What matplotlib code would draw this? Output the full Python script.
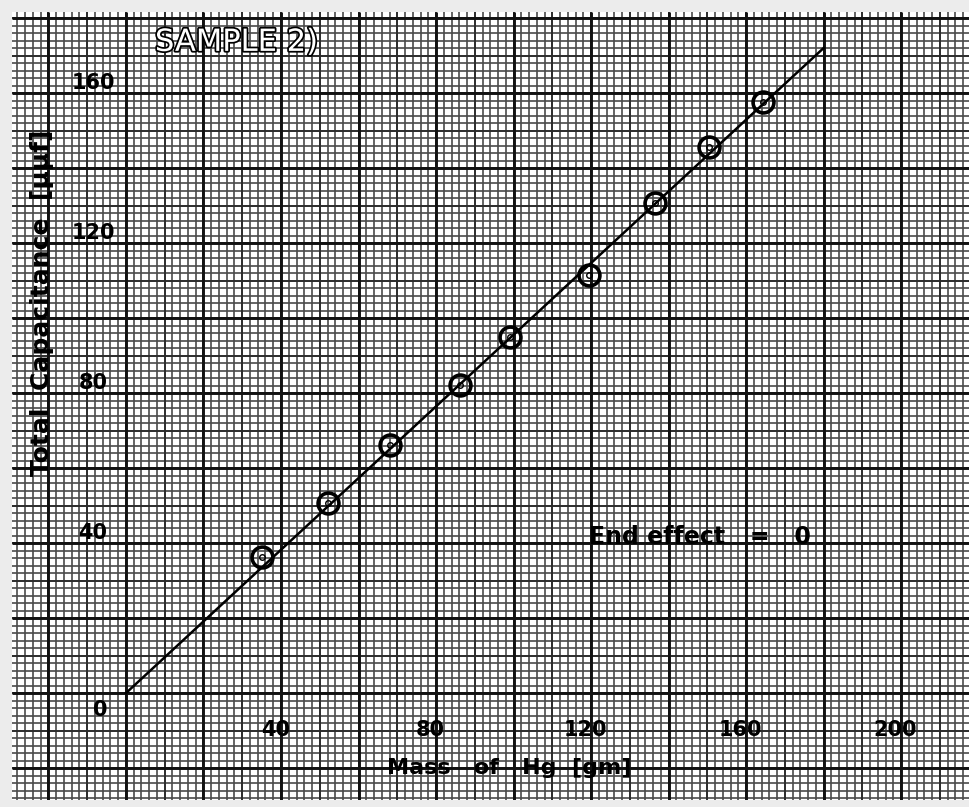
import numpy as np
import matplotlib.pyplot as plt
import matplotlib.patheffects as pe

# readings taken off the graph (mass of Hg in gm, total capacitance in uuf)
mass = [35.1, 52.1, 68.1, 86.2, 99.1, 119.5, 136.5, 150.5, 164.4]
capacitance = [36.3, 50.7, 66.1, 82.1, 94.9, 111.5, 130.7, 145.6, 157.6]

# fitted straight line through origin
fit_x = [0, 180]
fit_y = [0, 172]

x_ticks = [40, 80, 120, 160, 200]
y_ticks = [40, 80, 120, 160]

fig = plt.figure(figsize=(9.69, 8.07), dpi=100)
fig.patch.set_facecolor('#ececec')
ax = fig.add_axes([12 / 969, 7 / 807, 1 - 12 / 969, (800 - 12) / 807])
ax.set_facecolor('white')
ax.set_xlim(-29.4, 217.5)
ax.set_ylim(-28.5, 181.6)

# graph paper: 1 mm, 5 mm and 1 cm rulings
x0, x1 = ax.get_xlim()
y0, y1 = ax.get_ylim()
xs = np.arange(-28, 218, 2)
ys = np.arange(-28, 182, 2)
ax.vlines(xs, y0, y1, color='#4a4a4a', lw=1.2, zorder=1)
ax.hlines(ys, x0, x1, color='#4a4a4a', lw=1.2, zorder=1)
ax.vlines(np.arange(-20, 218, 10), y0, y1, color='#2a2a2a', lw=1.3, zorder=1)
ax.hlines(np.arange(-20, 182, 10), x0, x1, color='#2a2a2a', lw=1.3, zorder=1)
ax.vlines(np.arange(-20, 218, 20), y0, y1, color='#111111', lw=2.1, zorder=2)
ax.hlines(np.arange(-20, 182, 20), x0, x1, color='#111111', lw=2.1, zorder=2)

ax.plot(fit_x, fit_y, color='black', lw=1.8, zorder=3)
ax.plot(mass, capacitance, 'o', ms=15, mfc='none', mec='black', mew=2.6, zorder=4)
ax.plot(mass, capacitance, 'o', ms=4, mfc='none', mec='black', mew=1.0, zorder=4)

for v in y_ticks:
    ax.text(-8.5, v + 2.6, str(v), ha='center', va='center', fontsize=15,
            fontweight='bold', zorder=5)
for v in x_ticks:
    ax.text(v - 1.5, -9.9, str(v), ha='center', va='center', fontsize=15,
            fontweight='bold', zorder=5)
ax.text(-6.7, -4.5, '0', ha='center', va='center', fontsize=15,
        fontweight='bold', zorder=5)

ax.text(99, -20, 'Mass   of   Hg  [gm]', ha='center', va='center', fontsize=16,
        fontweight='bold', zorder=5)
ax.text(-21.7, 104, 'Total  Capacitance  [μμf]', ha='center', va='center',
        rotation=90, fontsize=18, fontweight='bold', zorder=5)
ax.text(148, 41.5, 'End effect   =   0', ha='center', va='center', fontsize=17,
        fontweight='bold', zorder=5)

ax.text(28.5, 173.5, 'SAMPLE 2)', ha='center', va='center', fontsize=22,
        color='white', zorder=5,
        path_effects=[pe.withStroke(linewidth=2.5, foreground='black')])

ax.set_xticks([])
ax.set_yticks([])
for s in ax.spines.values():
    s.set_visible(False)

fig.savefig('out.png', dpi=100, facecolor=fig.get_facecolor())
